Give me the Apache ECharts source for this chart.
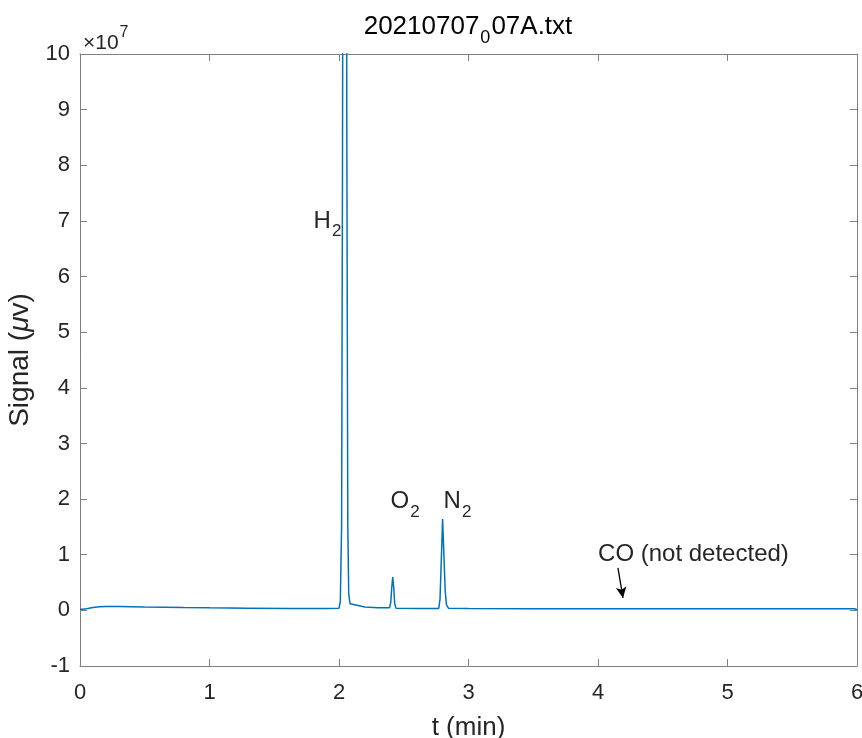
<!DOCTYPE html>
<html>
<head>
<meta charset="utf-8">
<script src="https://cdn.jsdelivr.net/npm/echarts@6/dist/echarts.min.js"></script>
<style>
  html, body { margin: 0; padding: 0; background: #ffffff; }
  #chart { width: 862px; height: 738px; }
</style>
</head>
<body>
<div id="chart"></div>
<script>
// Chromatogram of run 20210707_007A: retention time (min) vs detector signal (units of 1e7 µV)
const timeMin = [
  0, 0.02, 0.05, 0.1, 0.15, 0.2, 0.3, 0.5, 0.8, 1.0, 1.3, 1.6, 1.9, 2.0,
  2.01, 2.02, 2.027, 2.035, 2.045, 2.055, 2.06, 2.068, 2.075, 2.085, 2.1, 2.2, 2.3,
  2.39, 2.4, 2.407, 2.415, 2.423, 2.43, 2.44, 2.6,
  2.77, 2.78, 2.79, 2.8, 2.81, 2.82, 2.83, 2.845,
  3.0, 3.5, 4.0, 4.5, 5.0, 5.5, 5.98, 6.0
];
const signalE7 = [
  0.02, 0.02, 0.03, 0.05, 0.065, 0.07, 0.07, 0.06, 0.05, 0.045, 0.04, 0.035, 0.035, 0.04,
  0.15, 1.5, 8, 20, 30, 20, 9, 1.5, 0.3, 0.12, 0.09, 0.06, 0.045,
  0.045, 0.15, 0.4, 0.6, 0.4, 0.12, 0.04, 0.035,
  0.035, 0.2, 0.9, 1.64, 1.0, 0.35, 0.1, 0.04,
  0.035, 0.03, 0.03, 0.03, 0.03, 0.03, 0.03, 0.01
];
const xTicks = [0, 1, 2, 3, 4, 5, 6];
const yTicks = [-1, 0, 1, 2, 3, 4, 5, 6, 7, 8, 9, 10];
const titleText = '{m|20210707}{s|0}{m|07A.txt}';
const peakLabels = ['H', 'O', 'N'];

const FONT = '"Liberation Sans", Arial, Helvetica, sans-serif';
const INK = '#262626';
const AXIS = '#7f7f7f';

const chart = echarts.init(document.getElementById('chart'), null, { renderer: 'canvas' });

const points = timeMin.map((t, i) => [t, signalE7[i]]);

const subRich = {
  m: { fontSize: 24, lineHeight: 24, fontFamily: FONT, color: INK, verticalAlign: 'top' },
  s: { fontSize: 17, lineHeight: 17, fontFamily: FONT, color: INK, verticalAlign: 'top', padding: [14, 0, 0, 1] }
};

function axisCommon(pos, showLabels, min, max, ticks) {
  return {
    type: 'value',
    position: pos,
    min: min,
    max: max,
    interval: 1,
    axisLine: { show: true, onZero: false, lineStyle: { color: AXIS, width: 1 } },
    axisTick: { show: true, inside: true, length: 7, lineStyle: { color: AXIS, width: 1 } },
    axisLabel: {
      show: showLabels,
      fontSize: 22,
      color: INK,
      fontFamily: FONT,
      formatter: v => ticks.includes(v) ? String(v) : ''
    },
    splitLine: { show: false }
  };
}

const xBottom = Object.assign(axisCommon('bottom', true, 0, 6, xTicks), {
  name: 't (min)',
  nameLocation: 'middle',
  nameGap: 49,
  nameTextStyle: { fontSize: 26, color: INK, fontFamily: FONT }
});
xBottom.axisLabel.margin = 16;
const xTop = axisCommon('top', false, 0, 6, xTicks);

const yLeft = Object.assign(axisCommon('left', true, -1, 10, yTicks), {
  name: '{n|Signal (}{i|μ}{n|v)}',
  nameLocation: 'middle',
  nameRotate: 90,
  nameGap: 33,
  nameTextStyle: {
    rich: {
      n: { fontSize: 28, color: INK, fontFamily: FONT },
      i: { fontSize: 28, color: INK, fontFamily: FONT, fontStyle: 'italic' }
    }
  }
});
yLeft.axisLabel.margin = 10;
const yRight = axisCommon('right', false, -1, 10, yTicks);

const option = {
  animation: false,
  backgroundColor: '#ffffff',
  title: [
    {
      text: titleText,
      left: 463,
      top: 9,
      textAlign: 'center',
      textStyle: {
        fontWeight: 'normal',
        rich: {
          m: { fontSize: 26, lineHeight: 26, fontFamily: FONT, fontWeight: 'normal', color: '#000000', verticalAlign: 'top' },
          s: { fontSize: 18, lineHeight: 18, fontFamily: FONT, fontWeight: 'normal', color: '#000000', verticalAlign: 'top', padding: [15, 1, 0, 1] }
        }
      }
    },
    {
      text: '{a|×10}{b|7}',
      left: 78,
      top: 20,
      textStyle: {
        fontWeight: 'normal',
        rich: {
          a: { fontSize: 21, lineHeight: 21, fontFamily: FONT, fontWeight: 'normal', color: INK, verticalAlign: 'top', padding: [8, 0, 0, 0] },
          b: { fontSize: 16, lineHeight: 16, fontFamily: FONT, fontWeight: 'normal', color: INK, verticalAlign: 'top', padding: [0, 0, 0, 1] }
        }
      }
    }
  ],
  grid: { left: 80, right: 5, top: 54, bottom: 72, containLabel: false, outerBoundsMode: 'none' },
  xAxis: [xBottom, xTop],
  yAxis: [yLeft, yRight],
  series: [
    {
      type: 'line',
      xAxisIndex: 0,
      yAxisIndex: 0,
      data: points,
      showSymbol: false,
      symbol: 'none',
      clip: true,
      lineStyle: { color: '#0072BD', width: 1.5 },
      markPoint: {
        silent: true,
        symbol: 'circle',
        symbolSize: 1,
        itemStyle: { color: 'rgba(0,0,0,0)' },
        label: { show: true, position: 'inside', align: 'center', verticalAlign: 'middle', rich: subRich },
        data: [
          { coord: [1.911, 7.0], label: { formatter: '{m|' + peakLabels[0] + '}{s|2}' } },
          { coord: [2.51, 1.95], label: { formatter: '{m|' + peakLabels[1] + '}{s|2}' } },
          { coord: [2.915, 1.95], label: { formatter: '{m|' + peakLabels[2] + '}{s|2}' } },
          { coord: [4.737, 1.005], label: { formatter: '{m|CO (not detected)}' } }
        ]
      },
      markLine: {
        silent: true,
        symbol: ['none', 'arrow'],
        symbolSize: [8, 11],
        label: { show: false },
        lineStyle: { color: '#000000', width: 1.3, type: 'solid' },
        data: [[{ coord: [4.154, 0.763] }, { coord: [4.193, 0.223] }]]
      }
    }
  ]
};

chart.setOption(option);
</script>
</body>
</html>
